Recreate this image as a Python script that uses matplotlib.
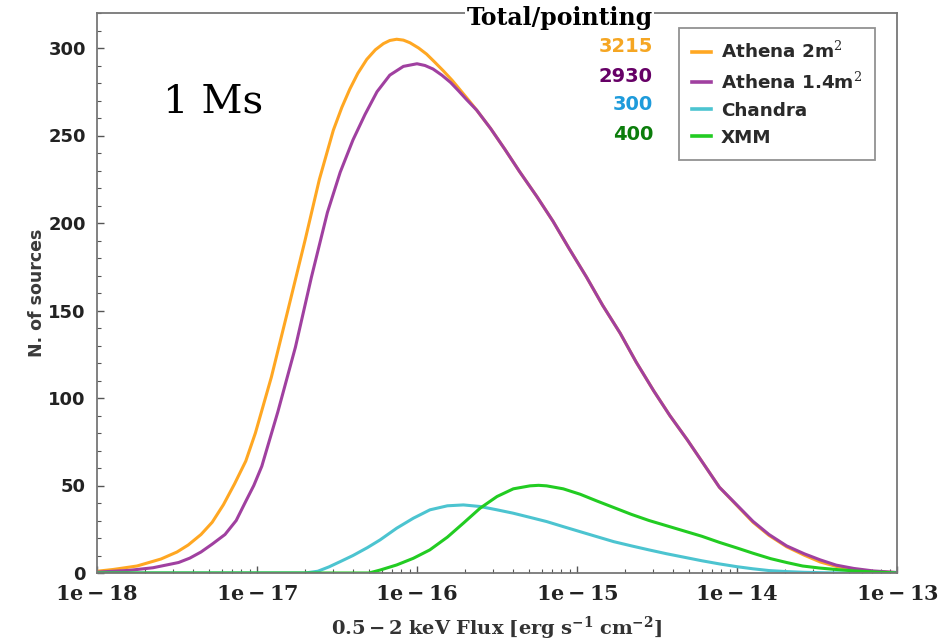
import numpy as np
import matplotlib
matplotlib.use("Agg")
import matplotlib.pyplot as plt
from matplotlib.ticker import FixedLocator, FixedFormatter, MultipleLocator, LogLocator, NullFormatter

plt.rcParams['mathtext.fontset'] = 'dejavuserif'

# ---- data (log10 flux, number of sources) ----
athena2_logf = [-18.0, -17.9, -17.75, -17.6, -17.5, -17.43, -17.35, -17.28, -17.21, -17.14,
                -17.07, -17.01, -16.91, -16.81, -16.70, -16.61, -16.523, -16.47, -16.42, -16.37,
                -16.314, -16.26, -16.21, -16.17, -16.127, -16.085, -16.044, -15.99, -15.94, -15.89,
                -15.836, -15.78, -15.73, -15.68, -15.627, -15.54, -15.45, -15.36, -15.25, -15.15,
                -15.05, -14.94, -14.84, -14.73, -14.63, -14.52, -14.42, -14.31, -14.21, -14.11,
                -14.0, -13.90, -13.80, -13.69, -13.58, -13.48, -13.38, -13.27, -13.15, -13.0]
athena2_n = [1, 2, 4, 8, 12, 16, 22, 29, 39, 51,
             64, 80, 112, 149, 190, 225, 253, 266, 276.5, 285.5,
             293.5, 299, 302.5, 304.3, 305, 304.5, 303, 300, 296.5, 292,
             287, 281.5, 276, 270.5, 264.5, 254, 242, 229.5, 215, 201,
             185.5, 169, 153, 137, 120.5, 104, 90, 76, 62.5, 49,
             38.5, 29, 21.5, 15, 10.2, 6.3, 3.8, 2, 0.8, 0.2]

athena14_logf = [-18.0, -17.8, -17.65, -17.49, -17.42, -17.35, -17.28, -17.20, -17.13, -17.07,
                 -17.02, -16.97, -16.87, -16.76, -16.66, -16.56, -16.48, -16.40, -16.325, -16.25,
                 -16.17, -16.085, -16.0, -15.95, -15.90, -15.845, -15.79, -15.74, -15.69, -15.627,
                 -15.54, -15.45, -15.36, -15.25, -15.15, -15.05, -14.94, -14.84, -14.73, -14.63,
                 -14.52, -14.42, -14.31, -14.21, -14.11, -14.0, -13.90, -13.80, -13.69, -13.58,
                 -13.48, -13.38, -13.27, -13.15, -13.0]
athena14_n = [0.5, 1.5, 3, 6, 8.5, 12, 16.5, 22, 30, 41,
              50, 61, 92, 129, 169, 206, 229, 247.5, 262, 275,
              284.5, 289.5, 291, 290, 288, 284.5, 280.3, 275.5, 270.5, 264.5,
              254, 242, 229.5, 215, 201, 185.5, 169, 153, 137, 120.5,
              104, 90, 76, 62.5, 49, 38.8, 29.5, 22, 15.5, 11,
              7.5, 4.5, 2.6, 1.2, 0.3]

chandra_logf = [-18.0, -16.70, -16.62, -16.55, -16.48, -16.40, -16.31, -16.231, -16.127, -16.023,
                -15.919, -15.81, -15.71, -15.606, -15.50, -15.40, -15.29, -15.19, -15.086, -14.98,
                -14.877, -14.77, -14.66, -14.55, -14.44, -14.33, -14.22, -14.11, -14.0, -13.9,
                -13.8, -13.69, -13.58, -13.45, -13.3, -13.0]
chandra_n = [0, 0, 1, 3.5, 6.5, 10, 14.5, 18.9, 25.6, 31.3,
             36.1, 38.4, 38.9, 38, 36.1, 34.2, 31.7, 29.4, 26.5, 23.6,
             20.8, 17.9, 15.5, 13.2, 11, 9, 7, 5.2, 3.6, 2.4,
             1.4, 0.8, 0.4, 0.15, 0, 0]

xmm_logf = [-18.0, -16.30, -16.23, -16.127, -16.023, -15.92, -15.81, -15.71, -15.606, -15.50,
            -15.398, -15.294, -15.24, -15.19, -15.086, -14.98, -14.877, -14.77, -14.66, -14.55,
            -14.44, -14.33, -14.22, -14.11, -14.0, -13.9, -13.79, -13.69, -13.59, -13.48,
            -13.38, -13.27, -13.15, -13.0]
xmm_n = [0, 0, 1.7, 4.6, 8.4, 13.2, 20.5, 28.5, 37, 43.7,
         48.1, 49.8, 50.1, 49.8, 48.1, 45, 41.2, 37.4, 33.5, 30,
         27, 24, 21, 17.5, 14.3, 11.3, 8.2, 6, 4, 2.8,
         2, 1.2, 0.6, 0]

series_labels = ['Athena 2m$^2$', 'Athena 1.4m$^2$', 'Chandra', 'XMM']
totals = ['3215', '2930', '300', '400']
total_colors = ['#F5A623', '#660066', '#1E9BDB', '#0B7D0B']
line_colors = ['#FFA722', '#A040A0', '#4CC4D0', '#22CC22']

xtick_vals = [1e-18, 1e-17, 1e-16, 1e-15, 1e-14, 1e-13]
xtick_labels = [r'$\mathbf{1e-18}$', r'$\mathbf{1e-17}$', r'$\mathbf{1e-16}$',
                r'$\mathbf{1e-15}$', r'$\mathbf{1e-14}$', r'$\mathbf{1e-13}$']
ytick_vals = [0, 50, 100, 150, 200, 250, 300]

# ---- figure ----
fig = plt.figure(figsize=(9.43, 6.43), dpi=100)
ax = fig.add_axes([97/943, 1 - 573/643, 800/943, 560/643])

data = [(athena2_logf, athena2_n), (athena14_logf, athena14_n),
        (chandra_logf, chandra_n), (xmm_logf, xmm_n)]
for (lf, n), lab, col in zip(data, series_labels, line_colors):
    ax.plot(10 ** np.array(lf), n, color=col, lw=2.2, label=lab, solid_joinstyle='round')

ax.set_xscale('log')
ax.set_xlim(1e-18, 1e-13)
ax.set_ylim(0, 320)

ax.xaxis.set_major_locator(FixedLocator(xtick_vals))
ax.xaxis.set_major_formatter(FixedFormatter(xtick_labels))
ax.xaxis.set_minor_locator(LogLocator(base=10, subs=np.arange(2, 10), numticks=20))
ax.xaxis.set_minor_formatter(NullFormatter())
ax.yaxis.set_major_locator(FixedLocator(ytick_vals))
ax.yaxis.set_minor_locator(MultipleLocator(10))

ax.tick_params(which='both', direction='in', colors='#555555', labelcolor='#222222')
ax.tick_params(which='major', length=5, width=1)
ax.tick_params(which='minor', length=3, width=0.8)
ax.tick_params(axis='x', labelsize=15, pad=8)
ax.tick_params(axis='y', labelsize=13, pad=8)
for lab in ax.get_yticklabels():
    lab.set_fontweight('bold')
for s in ax.spines.values():
    s.set_color('#777777')
    s.set_linewidth(1.3)

ax.set_xlabel(r'$\mathbf{0.5-2\ keV\ Flux\ [erg\ s^{-1}\ cm^{-2}]}$', fontsize=14,
              color='#333333', labelpad=8)
ax.set_ylabel('N. of sources', fontsize=12.5, fontweight='bold', color='#3a3a3a', labelpad=2)

leg = ax.legend(loc='upper right', bbox_to_anchor=(0.9725, 0.973), borderaxespad=0,
                handlelength=1.07, handletextpad=0.53, frameon=True, fancybox=False,
                borderpad=0.7, labelspacing=0.5, prop={'weight': 'bold', 'size': 13.2})
leg.get_frame().set_edgecolor('#777777')
leg.get_frame().set_linewidth(1.3)
for t in leg.get_texts():
    t.set_color('#2a2a2a')
for h in leg.get_lines():
    h.set_linewidth(2.6)

fig.text(163/943, 1 - 102/643, '1 Ms', fontsize=29, family='DejaVu Serif',
         ha='left', va='center', color='black')

fig.text(653/943, 1 - 18/643, 'Total/pointing', fontsize=17, family='DejaVu Serif',
         fontweight='bold', ha='right', va='center', color='black',
         bbox=dict(facecolor='white', edgecolor='none', pad=1.0))
for i, (t, c) in enumerate(zip(totals, total_colors)):
    fig.text(653/943, 1 - (47 + i * 29) / 643, t, fontsize=14, fontweight='bold',
             ha='right', va='center', color=c)

fig.savefig('out.png', dpi=100, facecolor='white')
